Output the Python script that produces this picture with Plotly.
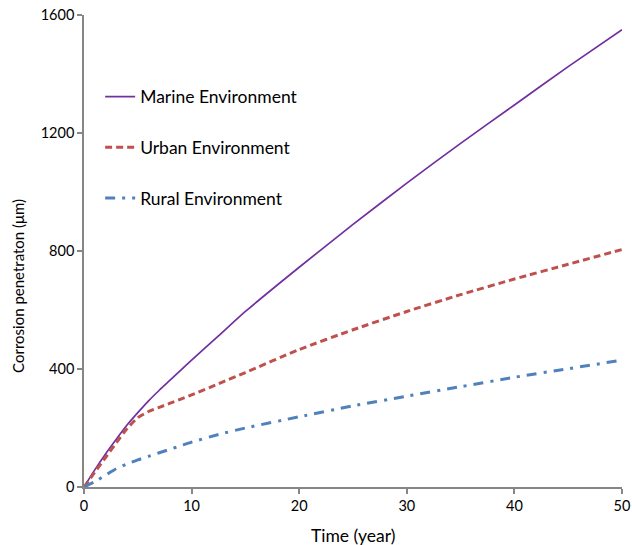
import plotly.graph_objects as go

# Exposure time (years)
time_years = [0, 1, 2, 3, 4, 5, 6, 7, 8, 9, 10, 12.5, 15, 20, 25, 30, 35, 40, 45, 50]

# Corrosion penetration (µm) for each environment
marine = [0, 58, 112, 162, 210, 252, 292, 328, 362, 396, 430, 512, 595, 745, 890, 1030, 1165, 1295, 1425, 1550]
urban = [0, 50, 100, 150, 198, 235, 256, 270, 284, 298, 312, 350, 388, 466, 533, 595, 652, 705, 755, 805]
rural = [0, 18, 40, 62, 78, 92, 104, 116, 128, 140, 152, 178, 200, 238, 275, 308, 340, 372, 401, 430]

series_names = ["Marine Environment", "Urban Environment", "Rural Environment"]
x_title = "Time (year)"
y_title = "Corrosion penetraton (μm)"

FONT = "Lato"
AXIS_GRAY = "#868686"

fig = go.Figure()
fig.add_trace(go.Scatter(
    x=time_years, y=marine, mode="lines", name=series_names[0], legendgroup="m",
    line=dict(color="#7030A0", width=1.7, shape="spline", smoothing=0.6),
))
fig.add_trace(go.Scatter(
    x=time_years, y=urban, mode="lines", name=series_names[1], legendgroup="u",
    line=dict(color="#C0504D", width=3, dash="7px,4px", shape="spline", smoothing=0.6),
))
fig.add_trace(go.Scatter(
    x=time_years, y=rural, mode="lines", name=series_names[2], legendgroup="r",
    line=dict(color="#4F81BD", width=3, dash="10px,7px,3px,7px", shape="spline", smoothing=0.6),
))

axis_common = dict(
    showgrid=False, zeroline=False, showline=True, linecolor=AXIS_GRAY, linewidth=1.5,
    ticks="outside", ticklen=5, tickcolor=AXIS_GRAY, tickwidth=1.5,
    tickfont=dict(family=FONT, size=14.5, color="#000000"),
    automargin=False,
)

fig.update_layout(
    width=632, height=545,
    margin=dict(l=84, r=10, t=15, b=58),
    paper_bgcolor="white", plot_bgcolor="white",
    font=dict(family=FONT, size=15, color="#000000"),
    showlegend=True,
    legend=dict(
        x=0.03, y=0.865, xanchor="left", yanchor="top",
        bgcolor="rgba(0,0,0,0)", font=dict(family=FONT, size=17.5, color="#000000"),
        tracegroupgap=25, itemwidth=30,
    ),
    xaxis=dict(range=[0, 50], tickvals=[0, 10, 20, 30, 40, 50], **axis_common),
    yaxis=dict(range=[0, 1600], tickvals=[0, 400, 800, 1200, 1600], **axis_common),
    annotations=[
        dict(text=x_title, xref="paper", yref="paper", x=0.5, y=-0.1017,
             xanchor="center", yanchor="middle", showarrow=False,
             font=dict(family=FONT, size=17.5, color="#000000")),
        dict(text=y_title, xref="paper", yref="paper", x=-0.1227, y=0.426,
             xanchor="center", yanchor="middle", textangle=-90, showarrow=False,
             font=dict(family=FONT, size=15, color="#000000")),
    ],
)

fig.write_html("out.html")
